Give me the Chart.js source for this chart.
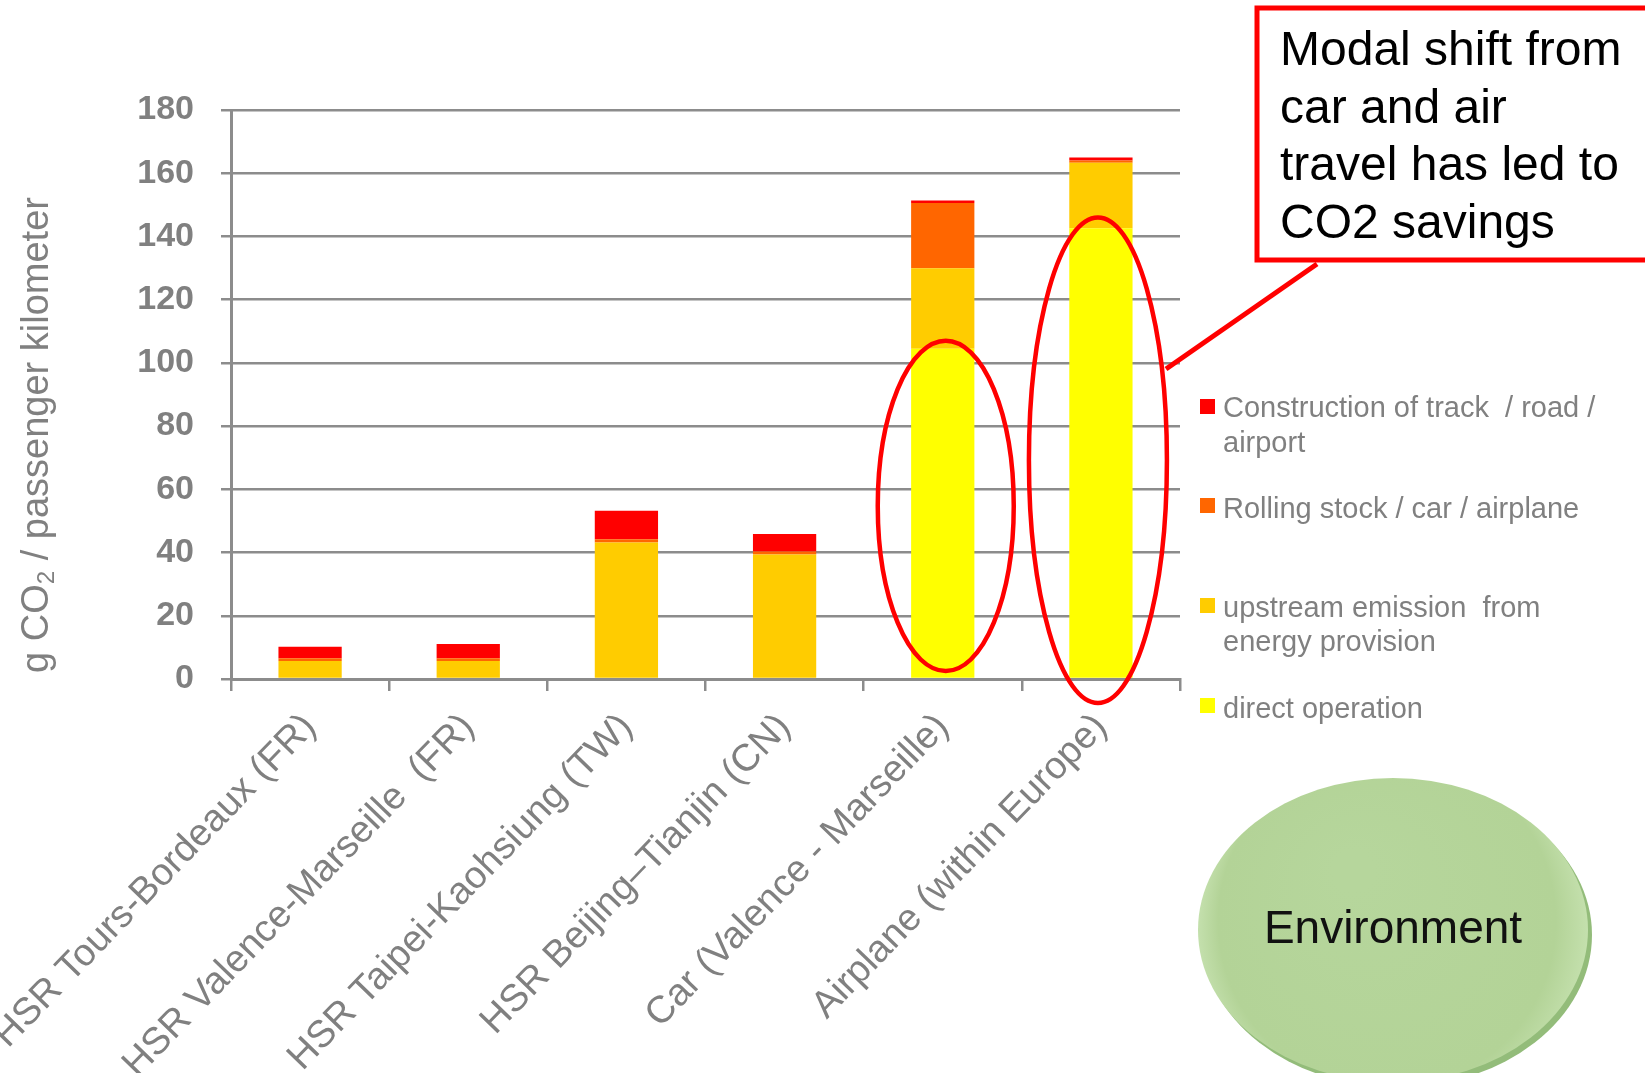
<!DOCTYPE html>
<html>
<head>
<meta charset="utf-8">
<script src="https://cdn.jsdelivr.net/npm/chart.js@4.4.1/dist/chart.umd.min.js"></script>
<style>
  body { margin: 0; background: #fff; }
  canvas { display: block; }
</style>
</head>
<body>
<canvas id="myChart" width="1645" height="1073"></canvas>
<script>
// categories
const routes = [
  'HSR Tours-Bordeaux (FR)',
  'HSR Valence-Marseille  (FR)',
  'HSR Taipei-Kaohsiung (TW)',
  'HSR Beijing\u2013Tianjin (CN)',
  'Car (Valence - Marseille)',
  'Airplane (within Europe)'
];

// g CO2 per passenger km
const directOperation = [0, 0, 0, 0, 104.5, 142.6];
const upstreamEnergy  = [5.7, 5.7, 43.2, 39.4, 25.4, 20.7];
const rollingStock    = [0.9, 0.9, 1.0, 0.9, 20.7, 0.7];
const construction    = [3.6, 4.5, 9.0, 5.6, 0.8, 1.0];

const yTicks = [0, 20, 40, 60, 80, 100, 120, 140, 160, 180];

const legendText = [
  ['Construction of track  / road /', 'airport'],
  ['Rolling stock / car / airplane'],
  ['upstream emission  from', 'energy provision'],
  ['direct operation']
];
const legendColors = ['#ff0000', '#ff6600', '#ffcc00', '#ffff00'];

const calloutLines = ['Modal shift from', 'car and air', 'travel has led to', 'CO2 savings'];

const FONT = '"Liberation Sans", Arial, Helvetica, sans-serif';
const GREY = '#808080';

// the drawn bits that are not part of chart.js: axis title, legend, callout, rings
const extras = {
  id: 'extras',
  afterDraw(chart) {
    const ctx = chart.ctx;
    const xs = chart.scales.x, ys = chart.scales.y;

    // y axis title with subscript 2
    ctx.save();
    ctx.translate(38, 435);
    ctx.rotate(-Math.PI / 2);
    ctx.fillStyle = GREY;
    ctx.textBaseline = 'middle';
    const a = 'g CO', b = ' / passenger kilometer';
    ctx.font = '38px ' + FONT;
    const wa = ctx.measureText(a).width, wb = ctx.measureText(b).width;
    ctx.font = '24px ' + FONT;
    const ws = ctx.measureText('2').width;
    let px = -(wa + ws + wb) / 2;
    ctx.font = '38px ' + FONT;
    ctx.textAlign = 'left';
    ctx.fillText(a, px, 0);
    ctx.font = '24px ' + FONT;
    ctx.fillText('2', px + wa, 9);
    ctx.font = '38px ' + FONT;
    ctx.fillText(b, px + wa + ws, 0);
    ctx.restore();

    // legend
    const legendY = [[409, 444], [510], [609, 643], [710]];
    const boxY = [406, 505, 605, 705];
    ctx.save();
    ctx.font = '29px ' + FONT;
    ctx.textBaseline = 'middle';
    legendText.forEach((lines, i) => {
      ctx.fillStyle = legendColors[i];
      ctx.fillRect(1200, boxY[i] - 7, 15, 15);
      ctx.fillStyle = GREY;
      lines.forEach((t, j) => ctx.fillText(t, 1223, legendY[i][j]));
    });
    ctx.restore();

    // red rings around car and airplane direct emissions
    function ring(idx, top, bottom, rx, dx) {
      const cx = xs.getPixelForValue(idx) + dx;
      const y1 = ys.getPixelForValue(top), y2 = ys.getPixelForValue(bottom);
      ctx.beginPath();
      ctx.ellipse(cx, (y1 + y2) / 2, rx, (y2 - y1) / 2, 0, 0, Math.PI * 2);
      ctx.stroke();
    }
    ctx.save();
    ctx.strokeStyle = '#ff0000';
    ctx.lineWidth = 4.5;
    ring(4, 107, 2.5, 68, 3);
    ring(5, 146, -7.6, 69, -3);

    // callout
    ctx.lineWidth = 5;
    ctx.beginPath();
    ctx.moveTo(1317, 264);
    ctx.lineTo(1166, 369);
    ctx.stroke();
    ctx.fillStyle = '#fff';
    ctx.fillRect(1257, 8, 420, 252);
    ctx.strokeRect(1257, 8, 420, 252);
    ctx.fillStyle = '#000';
    ctx.font = '48px ' + FONT;
    ctx.textBaseline = 'alphabetic';
    calloutLines.forEach((t, i) => ctx.fillText(t, 1280, 65 + i * 57.5));
    ctx.restore();

    // green "Environment" disc
    ctx.save();
    const cx = 1393, cy = 930, rx = 195, ry = 152;
    ctx.beginPath();
    ctx.ellipse(cx + 4, cy + 5, rx, ry, 0, 0, Math.PI * 2);
    ctx.fillStyle = '#93bc7a';
    ctx.fill();
    const g = ctx.createRadialGradient(cx - 40, cy - 60, 20, cx, cy, rx);
    g.addColorStop(0, '#b6d69c');
    g.addColorStop(0.85, '#b3d397');
    g.addColorStop(1, '#c4e0ad');
    ctx.beginPath();
    ctx.ellipse(cx, cy, rx, ry, 0, 0, Math.PI * 2);
    ctx.fillStyle = g;
    ctx.fill();
    ctx.fillStyle = '#111';
    ctx.font = '46px ' + FONT;
    ctx.textAlign = 'center';
    ctx.textBaseline = 'alphabetic';
    ctx.fillText('Environment', cx, 943);
    ctx.restore();
  }
};

const ctx = document.getElementById('myChart').getContext('2d');
const barShare = 0.4;

const myChart = new Chart(ctx, {
  type: 'bar',
  data: {
    labels: routes,
    datasets: [
      { label: 'direct operation', data: directOperation, backgroundColor: '#ffff00' },
      { label: 'upstream emission from energy provision', data: upstreamEnergy, backgroundColor: '#ffcc00' },
      { label: 'Rolling stock / car / airplane', data: rollingStock, backgroundColor: '#ff6600' },
      { label: 'Construction of track / road / airport', data: construction, backgroundColor: '#ff0000' }
    ]
  },
  options: {
    responsive: false,
    animation: false,
    layout: { padding: { top: 110, right: 465, left: 0, bottom: 0 } },
    datasets: { bar: { barPercentage: barShare, categoryPercentage: 1 } },
    plugins: { legend: { display: false }, tooltip: { enabled: false } },
    scales: {
      x: {
        stacked: true,
        grid: { offset: true, drawOnChartArea: false, color: '#8c8c8c', lineWidth: 2.5, tickLength: 12 },
        border: { color: '#8c8c8c', width: 3 },
        ticks: {
          color: GREY,
          font: { family: FONT, size: 38 },
          minRotation: 46,
          maxRotation: 46,
          autoSkip: false,
          padding: 14
        },
        afterFit(scale) {
          scale.height = 1073 - 679;
          scale.paddingLeft = 0;
          scale.paddingRight = 0;
        }
      },
      y: {
        stacked: true,
        min: 0,
        max: 180,
        afterBuildTicks(scale) {
          scale.ticks = yTicks.map(v => ({ value: v }));
        },
        grid: { color: '#8c8c8c', lineWidth: 2.5, tickLength: 10 },
        border: { color: '#8c8c8c', width: 3 },
        ticks: {
          color: GREY,
          font: { family: FONT, size: 34, weight: 'bold' },
          padding: 27
        },
        afterFit(scale) {
          scale.width = 231;
        }
      }
    }
  },
  plugins: [extras]
});
</script>
</body>
</html>
